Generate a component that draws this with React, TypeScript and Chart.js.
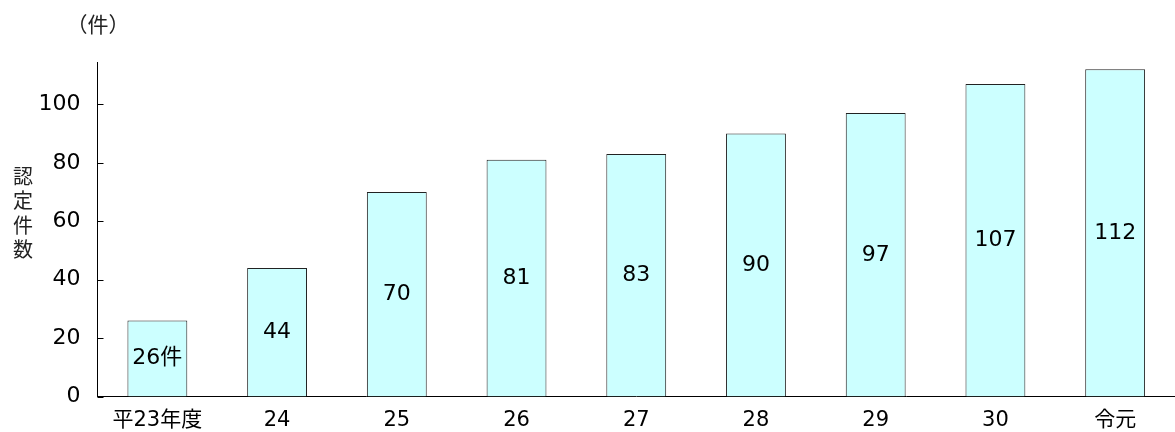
import React, { useEffect, useRef } from "react";
import { Chart, registerables } from "chart.js";

Chart.register(...registerables);

const categories = ["平23年度", "24", "25", "26", "27", "28", "29", "30", "令元"];
const counts = [26, 44, 70, 81, 83, 90, 97, 107, 112];
const firstLabelSuffix = "件";
const yTitleChars = ["認", "定", "件", "数"];
const unitLabel = "（件）";
const yMin = 0;
const yMax = 114.5;
const yStep = 20;

const NUM_FONT = "'DejaVu Sans', 'Noto Sans CJK JP', sans-serif";
const CJK_FONT = "'Noto Sans CJK JP', sans-serif";

const decorPlugin = {
  id: "decor",
  afterDraw(chart: any) {
    const ctx = chart.ctx;
    const y = chart.scales.y;
    const area = chart.chartArea;
    ctx.save();
    // inward tick marks on the y axis
    ctx.strokeStyle = "#000";
    ctx.lineWidth = 1;
    y.ticks.forEach((t: any) => {
      const py = Math.round(y.getPixelForValue(t.value)) + 0.5;
      ctx.beginPath();
      ctx.moveTo(area.left, py);
      ctx.lineTo(area.left + 6, py);
      ctx.stroke();
    });
    // bar value labels
    const meta = chart.getDatasetMeta(0);
    ctx.fillStyle = "#000";
    ctx.font = `22px ${NUM_FONT}`;
    ctx.textAlign = "center";
    ctx.textBaseline = "middle";
    meta.data.forEach((bar: any, i: number) => {
      const txt = i === 0 ? `${counts[i]}${firstLabelSuffix}` : String(counts[i]);
      ctx.fillText(txt, bar.x, (bar.y + bar.base) / 2);
    });
    // vertical y-axis title
    ctx.fillStyle = "#222";
    ctx.font = `20px ${CJK_FONT}`;
    yTitleChars.forEach((c, i) => {
      ctx.fillText(c, 23, 176 + i * 24.5);
    });
    // unit label
    ctx.font = `21px ${CJK_FONT}`;
    ctx.fillText(unitLabel, 98, 24);
    ctx.restore();
  },
};

export default function App() {
  const ref = useRef<HTMLCanvasElement | null>(null);
  useEffect(() => {
    if (!ref.current) return;
    const chart = new Chart(ref.current, {
      type: "bar",
      data: {
        labels: categories,
        datasets: [
          {
            data: counts,
            backgroundColor: "#CCFFFF",
            borderColor: "#222",
            borderWidth: 1,
            categoryPercentage: 1,
            barPercentage: 0.5,
          },
        ],
      },
      options: {
        responsive: false,
        animation: false,
        layout: { padding: { top: 62, left: 0, right: 0, bottom: 0 } },
        plugins: {
          legend: { display: false },
          tooltip: { enabled: false },
          title: { display: false },
        },
        scales: {
          x: {
            grid: { display: false, drawTicks: false },
            border: { display: true, color: "#000", width: 1 },
            ticks: {
              color: "#000",
              padding: 11,
              maxRotation: 0,
              autoSkip: false,
              font: { family: NUM_FONT, size: 21 },
            },
            afterFit(scale: any) {
              scale.height = 35.5;
            },
          },
          y: {
            min: yMin,
            max: yMax,
            grid: { display: false, drawTicks: false },
            border: { display: true, color: "#000", width: 1 },
            ticks: {
              stepSize: yStep,
              includeBounds: false,
              color: "#000",
              padding: 17,
              font: { family: NUM_FONT, size: 22 },
            },
            afterFit(scale: any) {
              scale.width = 97.5;
            },
          },
        },
      },
      plugins: [decorPlugin],
    });
    return () => chart.destroy();
  }, []);
  return (
    <div style={{ position: "absolute", left: 0, top: 0, width: 1175, height: 432, background: "#fff" }}>
      <canvas ref={ref} width={1175} height={432} />
    </div>
  );
}
